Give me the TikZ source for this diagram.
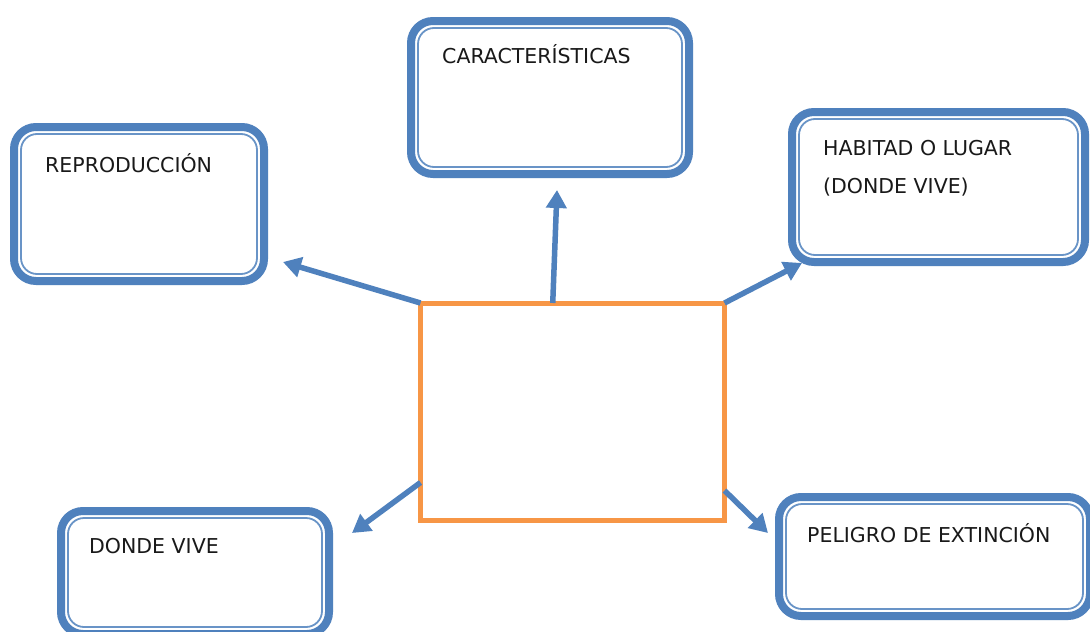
\documentclass[tikz,border=0pt]{standalone}
\usepackage{fontspec}
\setmainfont{DejaVu Sans}
\usetikzlibrary{arrows.meta,calc}
\definecolor{obl}{HTML}{4F81BD}
\definecolor{oor}{HTML}{F79646}
\tikzset{
  box/.style={draw=obl, line width=8pt, rounded corners=22pt, fill=white},
  innerline/.style={draw=obl!85, line width=1.8pt, rounded corners=16pt},
  centerbox/.style={draw=oor, line width=5pt},
  lbl/.style={anchor=base west, inner sep=0pt, font=\fontsize{20.5pt}{38pt}\selectfont, text=black!90},
  conn/.style={draw=obl, line width=5.5pt, -{Triangle[length=18pt,width=20pt]}},
}
\newcommand{\dbox}[3]{% name, top-left, bottom-right
  \path[box] #2 rectangle #3 node[pos=0.5, inner sep=0pt] (#1) {};
  \draw[innerline] ($#2+(7,7)$) rectangle ($#3+(-7,-7)$);
}
\begin{document}
\begin{tikzpicture}[x=1pt,y=-1pt]
\useasboundingbox (0,0) rectangle (1090,632);
\fill[white] (0,0) rectangle (1090,632);

\dbox{car}{(411,21)}{(689,174)}
\dbox{rep}{(14,127)}{(264,281)}
\dbox{hab}{(792,112)}{(1085,262)}
\dbox{don}{(61,511)}{(329,634)}
\dbox{pel}{(779,497)}{(1090,616)}

\node[lbl] (tcar) at (442,63) {CARACTERÍSTICAS};
\node[lbl] (trep) at (45,172) {REPRODUCCIÓN};
\node[lbl] (thab1) at (823,155) {HABITAD O LUGAR};
\node[lbl] (thab2) at (823,193) {(DONDE VIVE)};
\node[lbl] (tdon) at (89,553) {DONDE VIVE};
\node[lbl] (tpel) at (807,542) {PELIGRO DE EXTINCIÓN};

\draw[centerbox] (420.5,303) rectangle (724.5,520.5);
\node[minimum width=304pt, minimum height=217.5pt, inner sep=0pt, outer sep=0pt] (c) at (572.5,411.75) {};

\coordinate (tu) at (557,190);
\coordinate (tl) at (283,262);
\coordinate (tr) at (802,263);
\coordinate (tdl) at (352,533);
\coordinate (tdr) at (768,533);

\draw[conn] ($(c.north west)!0.435!(c.north east)$) -- (tu);
\draw[conn] (c.north west) -- (tl);
\draw[conn] (c.north east) -- (tr);
\draw[conn] ($(c.south west)+(0,-38)$) -- (tdl);
\draw[conn] ($(c.south east)+(0,-30)$) -- (tdr);
\end{tikzpicture}
\end{document}
